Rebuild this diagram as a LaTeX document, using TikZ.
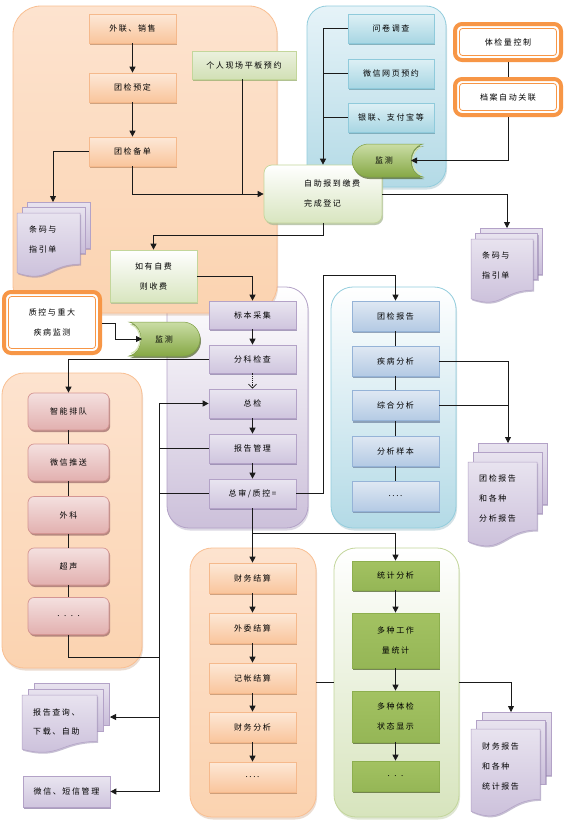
\documentclass[tikz,border=0pt]{standalone}
\usepackage{fontspec}
\newfontfamily\cjk[LetterSpace=20]{Noto Sans CJK SC}
\usetikzlibrary{arrows.meta,shadows}
\definecolor{OBd}{HTML}{F5B98C}\definecolor{OTp}{HTML}{FDE8D7}\definecolor{OBt}{HTML}{F9C59C}\definecolor{OSh}{HTML}{C08E68}
\definecolor{PBd}{HTML}{B3A2C7}\definecolor{PTp}{HTML}{E9E5F0}\definecolor{PBt}{HTML}{CFC5DE}\definecolor{PSh}{HTML}{8E80A8}
\definecolor{CBd}{HTML}{8FCADB}\definecolor{CTp}{HTML}{DDF0F5}\definecolor{CBt}{HTML}{A8D6E3}\definecolor{CSh}{HTML}{6A9EAD}
\definecolor{BBd}{HTML}{95B3D7}\definecolor{BTp}{HTML}{DFE8F3}\definecolor{BBt}{HTML}{B4CAE4}\definecolor{BSh}{HTML}{7489A6}
\definecolor{GBd}{HTML}{8DAF4E}\definecolor{GTp}{HTML}{A3C262}\definecolor{GMd}{HTML}{C3D996}\definecolor{GBt}{HTML}{95B656}\definecolor{GSh}{HTML}{4F6228}
\definecolor{KBd}{HTML}{D49593}\definecolor{KTp}{HTML}{F4E0DF}\definecolor{KBt}{HTML}{E2B0AF}\definecolor{KSh}{HTML}{A06E6D}
\definecolor{WBd}{HTML}{C3D69B}\definecolor{WBt}{HTML}{D8E5BF}\definecolor{WSh}{HTML}{A9B896}
\definecolor{LTp}{HTML}{EBF1DE}\definecolor{LBt}{HTML}{D2E0B6}\definecolor{LSh}{HTML}{97AE6E}
\definecolor{QOr}{HTML}{F79646}
\definecolor{AOb}{HTML}{F9BF92}\definecolor{AOt}{HTML}{FDE3CF}\definecolor{AOm}{HTML}{FFF8F2}\definecolor{AOe}{HTML}{FBD3B0}
\definecolor{ABd}{HTML}{93CDDD}\definecolor{ABt}{HTML}{B3DAE6}\definecolor{ABm}{HTML}{E6F3F8}
\definecolor{APe}{HTML}{CCC0DA}
\definecolor{AGe}{HTML}{D7E4BD}
\definecolor{DTp}{HTML}{E8E3EF}\definecolor{DBt}{HTML}{C9BDD9}
\definecolor{CyB}{HTML}{7F9F45}\definecolor{CyT}{HTML}{CADDA5}\definecolor{CyE}{HTML}{86A845}\definecolor{CyH}{HTML}{D5E5B5}
\definecolor{Ln}{HTML}{1A1A1A}
\newcommand{\mdoc}[6]{%
 \path[docpg] ({#1+2*#5},{#2-2*#6}) rectangle ({#1+2*#5+#3},{#2-2*#6+0.72*#4});
 \path[docpg] ({#1+#5},{#2-#6}) rectangle ({#1+#5+#3},{#2-#6+0.72*#4});
 \path[docpg] (#1,#2) -- ({#1+#3},#2) -- ({#1+#3},{#2+0.8*#4}) .. controls ({#1+0.5*#3},{#2+0.8*#4}) and ({#1+0.5*#3},{#2+1.107*#4}) .. (#1,{#2+0.934*#4}) -- cycle;}
\tikzset{
 txt/.style={font=\cjk\fontsize{8}{20}\selectfont, text=black, inner sep=0pt, align=center},
 shd/.style={drop shadow={shadow xshift=1.2pt, shadow yshift=-2pt, opacity=.75, fill=#1}},
 bx/.style={txt, rectangle, line width=.7pt, minimum width=87pt, minimum height=29pt},
 boxOr/.style={bx, draw=OBd, top color=OTp, bottom color=OBt, shd=OSh},
 boxPu/.style={bx, draw=PBd, top color=PTp, bottom color=PBt, shd=PSh},
 boxCy/.style={bx, draw=CBd, top color=CTp, bottom color=CBt, shd=CSh},
 boxBl/.style={bx, draw=BBd, top color=BTp, bottom color=BBt, shd=BSh},
 boxGr/.style={bx, draw=GBd, top color=GTp, middle color=GMd, bottom color=GBt, shd=GSh},
 boxPk/.style={bx, draw=KBd, top color=KTp, bottom color=KBt, shd=KSh, rounded corners=6pt, minimum width=81pt, minimum height=37pt},
 boxWg/.style={bx, draw=WBd, top color=white, bottom color=WBt, shd=WSh},
 boxLg/.style={bx, draw=WBd, top color=LTp, bottom color=LBt, shd=LSh},
 boxQ/.style={txt, rectangle, draw=QOr, line width=4pt, fill=white, rounded corners=7pt, minimum width=106pt, minimum height=36pt},
 qin/.style={draw=QOr, line width=.8pt, rounded corners=3pt},
 cont/.style={rectangle, inner sep=0pt, rounded corners=22pt, line width=.8pt},
 cshd/.style={drop shadow={shadow xshift=1pt, shadow yshift=-2.5pt, opacity=.3, fill=#1}},
 docpg/.style={draw=PBd, line width=.5pt, top color=DTp, bottom color=DBt, drop shadow={shadow xshift=1pt, shadow yshift=-1.5pt, opacity=.5, fill=PSh}},
 doctxt/.style={txt, align=left, anchor=west},
 cyl/.style={draw=CyB, line width=.5pt, top color=CyT, bottom color=CyE, drop shadow={shadow xshift=1pt, shadow yshift=-2pt, opacity=.7, fill=GSh}},
 conn/.style={draw=Ln, line width=.8pt},
 arr/.style={conn, -{Triangle[length=6pt,width=6pt]}},
}
\begin{document}
\begin{tikzpicture}[x=1pt,y=-1pt]
\useasboundingbox (0,0) rectangle (568,827);
\fill[white] (0,0) rectangle (568,827);
% containers
\node[cont, draw=PBd, top color=white, bottom color=APe, cshd=PSh, minimum width=141pt, minimum height=241pt] (cC) at (237.5,407.5) {};
\node[cont, draw=ABd, top color=white, bottom color=ABt, cshd=CSh, minimum width=125pt, minimum height=241pt] (cD) at (393.5,407.5) {};
\node[cont, draw=AOb, top color=AOt, middle color=AOm, bottom color=AOe, cshd=OSh, rounded corners=28pt, minimum width=264pt, minimum height=307pt] (cA) at (145,159.5) {};
\node[cont, draw=ABd, top color=ABm, bottom color=ABt, cshd=CSh, rounded corners=20pt, minimum width=139pt, minimum height=181pt] (cB) at (376.5,96.5) {};
\node[cont, draw=AOb, top color=AOt, middle color=AOm, bottom color=AOe, cshd=OSh, minimum width=140pt, minimum height=295pt] (cE) at (72,520.5) {};
\node[cont, draw=AOb, top color=AOt, middle color=AOm, bottom color=AOe, cshd=OSh, minimum width=126pt, minimum height=269pt] (cF) at (253,682.5) {};
\node[cont, draw=WBd, top color=white, bottom color=AGe, cshd=LSh, minimum width=125pt, minimum height=269pt] (cG) at (396.5,682.5) {};
% top-left group
\node[boxOr] (n1) at (132.5,28.5) {外联、销售};
\node[boxOr] (n2) at (132.5,87.5) {团检预定};
\node[boxOr] (n3) at (132.5,151.5) {团检备单};
\node[boxLg, minimum width=104pt, minimum height=28pt] (n4) at (244,65) {个人现场平板预约};
% top blue group
\node[boxCy, minimum width=86pt] (b1) at (391,28.5) {问卷调查};
\node[boxCy, minimum width=86pt] (b2) at (391,73.5) {微信网页预约};
\node[boxCy, minimum width=86pt] (b3) at (391,117.5) {银联、支付宝等};
% double orange
\node[boxQ] (q1) at (508,42) {体检量控制};
\draw[qin] ([shift={(6.5pt,-6.5pt)}]q1.north west) rectangle ([shift={(-6.5pt,6.5pt)}]q1.south east);
\node[boxQ] (q2) at (508,97) {档案自动关联};
\draw[qin] ([shift={(6.5pt,-6.5pt)}]q2.north west) rectangle ([shift={(-6.5pt,6.5pt)}]q2.south east);
\node[boxQ, minimum width=96pt, minimum height=61pt] (q3) at (52,322.5) {质控与重大\\疾病监测};
\draw[qin] ([shift={(6.5pt,-6.5pt)}]q3.north west) rectangle ([shift={(-6.5pt,6.5pt)}]q3.south east);
% check-in
\node[boxWg, rounded corners=8pt, minimum width=118pt, minimum height=58pt] (s1) at (323,194) {};
\node[txt, align=left, anchor=west] (s1t) at (304,193.5) {自助报到缴费\\完成登记};
\node[boxWg, minimum width=87pt, minimum height=52pt] (s2) at (153.5,276) {如有自费\\则收费};
% monitor shapes
\path[cyl] (368.5,144) -- (423,144) .. controls (407,148) and (407,173) .. (423,177) -- (368.5,177) .. controls (359.4,177) and (352,169.6) .. (352,160.5) .. controls (352,151.4) and (359.4,144) .. (368.5,144) -- cycle;
\draw[CyH, line width=1.2pt] (421.5,146.5) .. controls (409.5,150.5) and (409.5,170.5) .. (421.5,174.5);
\node[txt] (m1) at (384,160.5) {监测};
\path[cyl] (129,322) -- (183,322) .. controls (192.4,322) and (200,329.6) .. (200,339) .. controls (200,348.4) and (192.4,356) .. (183,356) -- (129,356) .. controls (145,352) and (145,326) .. (129,322) -- cycle;
\draw[CyH, line width=1.2pt] (131,324.5) .. controls (143,328) and (143,350) .. (131,353.5);
\node[txt] (m2) at (164,339) {监测};
% purple group
\node[boxPu, minimum height=28pt] (p1) at (252.5,315) {标本采集};
\node[boxPu, minimum height=28pt] (p2) at (252.5,359) {分科检查};
\node[boxPu] (p3) at (252.5,403.5) {总检};
\node[boxPu] (p4) at (252.5,448.5) {报告管理};
\node[boxPu] (p5) at (252.5,493.5) {总审/质控=};
\node[boxPu, minimum height=31pt] (p6) at (66.5,791.5) {微信、短信管理};
% blue report group
\node[boxBl, minimum height=30pt] (t1) at (395.5,316) {团检报告};
\node[boxBl, minimum height=30pt] (t2) at (395.5,361) {疾病分析};
\node[boxBl, minimum height=30pt] (t3) at (395.5,405.5) {综合分析};
\node[boxBl, minimum height=30pt] (t4) at (395.5,451) {分析样本};
\node[boxBl, minimum height=30pt] (t5) at (395.5,496) {....};
% pink group
\node[boxPk] (k1) at (68.5,411.5) {智能排队};
\node[boxPk] (k2) at (68.5,462.5) {微信推送};
\node[boxPk] (k3) at (68.5,515) {外科};
\node[boxPk] (k4) at (68.5,566.5) {超声};
\node[boxPk] (k5) at (68.5,616) {. . . .};
% finance group
\node[boxOr, minimum height=30pt] (f1) at (252.5,578) {财务结算};
\node[boxOr, minimum height=30pt] (f2) at (252.5,628) {外委结算};
\node[boxOr, minimum height=30pt] (f3) at (252.5,678) {记帐结算};
\node[boxOr, minimum height=30pt] (f4) at (252.5,727) {财务分析};
\node[boxOr, minimum height=30pt] (f5) at (252.5,777) {....};
% statistics group
\node[boxGr] (g1) at (395.5,575.5) {统计分析};
\node[boxGr, minimum height=55pt] (g2) at (395.5,640.5) {多种工作\\量统计};
\node[boxGr, minimum height=51pt] (g3) at (395.5,716.5) {多种体检\\状态显示};
\node[boxGr, minimum height=30pt] (g4) at (395.5,776) {. . .};
% documents
\mdoc{17}{213}{63}{64}{5}{5.5}
\node[doctxt] (d1) at (29,239) {条码与\\指引单};
\mdoc{471}{239}{62}{64}{4.5}{5.5}
\node[doctxt] (d2) at (482,265.5) {条码与\\指引单};
\mdoc{468}{462}{69}{85}{5}{9.5}
\node[doctxt] (d3) at (479,498) {团检报告\\和各种\\分析报告};
\mdoc{471}{729}{69}{88}{5.5}{8.5}
\node[doctxt] (d4) at (482,766.5) {财务报告\\和各种\\统计报告};
\mdoc{22}{695}{75}{58}{6}{6}
\node[doctxt, font=\cjk\fontsize{8}{19}\selectfont] (d5) at (33,721.5) {报告查询、\\下载、自助};
% coordinates
\coordinate (d1in) at (53,202);
\coordinate (d2in) at (507,228);
\coordinate (d3in) at (508,443);
\coordinate (d4in) at (511,712);
\coordinate (d5in) at (110,717);
\coordinate (m1in) at (411,160.5);
\coordinate (m2in) at (142,339);
\coordinate (j1) at (323,275);
\coordinate (busT) at (159,403.5);
\coordinate (busB) at (159,791.5);
\coordinate (busK) at (159,657);
\coordinate (br1) at (252.5,533);
% connectors
\draw[arr] (n1) -- (n2);
\draw[arr] (n2) -- (n3);
\draw[arr] (n3.west) -| (d1in);
\draw[arr] (n3.south) |- (s1.west);
\draw[conn] (242,79) -- (242,194);
\draw[arr] (b1.west) -| (s1.north);
\draw[conn] (b2.west) -- (b2.west -| s1.north);
\draw[conn] (b3.west) -- (b3.west -| s1.north);
\draw[conn] (q1) -- (q2);
\draw[arr] (q2.south) |- (m1in);
\draw[arr] (s1.east) -| (d2in);
\draw[arr] (s1.south) -- ++(0,12) -| (s2.north);
\draw[arr] (s2.east) -| (p1.north);
\draw[arr] (p1) -- (p2);
\draw[conn, dash pattern=on 1.2pt off 1pt, -{Straight Barb[length=4pt,width=8pt]}] (p2) -- (p3);
\draw[arr] (p3) -- (p4);
\draw[arr] (p4) -- (p5);
\draw[arr] (p2.west) -| (k1.north);
\draw[arr] (q3.east |- 0,323) -- (115,323) -- (115,339) -- (m2in);
\draw[conn] (k1) -- (k2) (k2) -- (k3) (k3) -- (k4) (k4) -- (k5);
\draw[conn] (k5.south) |- (busK);
\draw[arr] (busB) -- (busT) -- (p3.west);
\draw[conn] (p4.west) -- (p4.west -| busT);
\draw[conn] (p5.west) -- (p5.west -| busT);
\draw[arr] (busB |- d5in) -- (d5in);
\draw[arr] (busB) -- (p6.east);
\draw[arr] (p5.east) -| (j1) -| (t1.north);
\draw[conn] (t1) -- (t2) (t2) -- (t3) (t3) -- (t4) (t4) -- (t5);
\draw[arr] (t2.east) -| (d3in);
\draw[conn] (t3.east) -- (t3.east -| d3in);
\draw[arr] (p5.south) -- (f1.north);
\draw[arr] (br1) -| (g1.north);
\draw[arr] (f1) -- (f2);
\draw[arr] (f2) -- (f3);
\draw[arr] (f3) -- (f4);
\draw[arr] (f4) -- (f5);
\draw[arr] (g1) -- (g2);
\draw[arr] (g2) -- (g3);
\draw[arr] (g3) -- (g4);
\draw[conn] (cF.east) -- (cG.west);
\draw[arr] (cG.east) -| (d4in);
\end{tikzpicture}
\end{document}
